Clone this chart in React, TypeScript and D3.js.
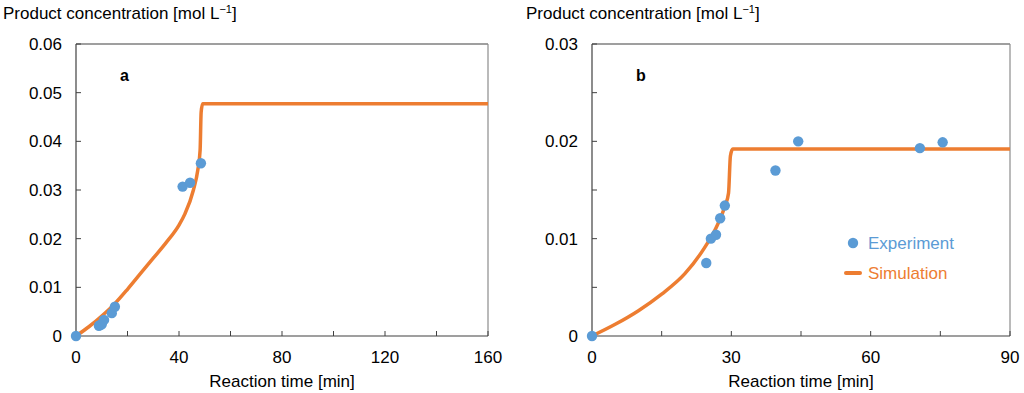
import * as d3 from "d3";

// panel a data
const expTimeA = [0, 8.9, 9.5, 10, 10.9, 13.9, 15.1, 41.4, 44.3, 48.5];
const expConcA = [0, 0.0021, 0.0023, 0.0024, 0.0033, 0.0047, 0.006, 0.0307, 0.0315, 0.0355];
const simTimeA = [0, 5, 10, 15, 20, 25, 30, 35, 40, 42.3, 45.6, 47.3, 48.2, 48.6, 49.2, 60, 160];
const simConcA = [0, 0.0019, 0.0041, 0.0066, 0.0096, 0.0128, 0.016, 0.0192, 0.0228, 0.0251, 0.03, 0.0341, 0.0382, 0.046, 0.0477, 0.0477, 0.0477];

// panel b data
const expTimeB = [0, 24.6, 25.6, 26.7, 27.6, 28.6, 39.5, 44.4, 70.6, 75.5];
const expConcB = [0, 0.0075, 0.01, 0.0104, 0.0121, 0.0134, 0.017, 0.02, 0.0193, 0.0199];
const simTimeB = [0, 5, 10, 15, 20, 24, 26.8, 28.6, 29.4, 29.8, 30.3, 40, 90];
const simConcB = [0, 0.0012, 0.0026, 0.0043, 0.0064, 0.0089, 0.0112, 0.0133, 0.0147, 0.0185, 0.0192, 0.0192, 0.0192];

const xTicksA = [0, 40, 80, 120, 160];
const yTicksA = [0, 0.01, 0.02, 0.03, 0.04, 0.05, 0.06];
const xTicksB = [0, 30, 60, 90];
const yTicksB = [0, 0.01, 0.02, 0.03];

const blue = "#5B9BD5";
const orange = "#ED7D31";
const font = "'Liberation Sans', Arial, sans-serif";

const Panel = ({ left, right, label, xMax, yMax, xTicks, yTicks, xMinor, yMinor, expT, expC, simT, simC, titleX, legend }) => {
  const top = 44, bottom = 336;
  const x = d3.scaleLinear().domain([0, xMax]).range([left, right]);
  const y = d3.scaleLinear().domain([0, yMax]).range([bottom, top]);
  const sim = simT.map((t, i) => [t, simC[i]]);
  const line = d3.line().x(d => x(d[0])).y(d => y(d[1])).curve(d3.curveMonotoneX);
  const fmt = v => (v === 0 ? "0" : d3.format(".2f")(v));

  return (
    <g fontFamily={font}>
      <text x={titleX} y={19} fontSize={17} fill="#000">
        Product concentration [mol L<tspan dy={-6} fontSize={11}>−1</tspan><tspan dy={6}>]</tspan>
      </text>
      {/* frame */}
      <line x1={left} x2={right} y1={top} y2={top} stroke="#404040" strokeWidth={1.2} />
      <line x1={right} x2={right} y1={top} y2={bottom} stroke="#8c8c8c" strokeWidth={1.2} />
      <line x1={left} x2={left} y1={top} y2={bottom} stroke="#404040" strokeWidth={1.2} />
      <line x1={left} x2={right} y1={bottom} y2={bottom} stroke="#404040" strokeWidth={1.2} />
      {d3.range(0, xMax + 0.001, xMinor).map(t => (
        <line key={"xt" + t} x1={x(t)} x2={x(t)} y1={bottom} y2={bottom - 5} stroke="#404040" />
      ))}
      {d3.range(0, yMax + 0.00001, yMinor).map(v => (
        <line key={"yt" + v} x1={left} x2={left + 5} y1={y(v)} y2={y(v)} stroke="#404040" />
      ))}
      {xTicks.map(t => (
        <text key={"xl" + t} x={x(t)} y={363} fontSize={17} textAnchor="middle" fill="#000">{t}</text>
      ))}
      {yTicks.map(v => (
        <text key={"yl" + v} x={left - 14} y={y(v) + 6} fontSize={17} textAnchor="end" fill="#000">{fmt(v)}</text>
      ))}
      <text x={(left + right) / 2} y={387} fontSize={17} textAnchor="middle" fill="#000">Reaction time [min]</text>
      <text x={left + 44} y={81} fontSize={16} fontWeight="bold" fill="#000">{label}</text>
      <path d={line(sim)} fill="none" stroke={orange} strokeWidth={3.5} />
      {expT.map((t, i) => (
        <circle key={"p" + i} cx={x(t)} cy={y(expC[i])} r={5.2} fill={blue} />
      ))}
      {legend && (
        <g>
          <circle cx={853} cy={243} r={5.2} fill={blue} />
          <text x={868} y={249} fontSize={17} fill={blue}>Experiment</text>
          <line x1={846} x2={860} y1={273} y2={273} stroke={orange} strokeWidth={4} strokeLinecap="round" />
          <text x={868} y={279} fontSize={17} fill={orange}>Simulation</text>
        </g>
      )}
    </g>
  );
};

export default function App() {
  return (
    <div style={{ position: "absolute", left: 0, top: 0 }}>
      <svg width={1024} height={393} style={{ display: "block", background: "#fff" }}>
        <Panel left={76} right={488} label="a" xMax={160} yMax={0.06} xTicks={xTicksA} yTicks={yTicksA}
          xMinor={20} yMinor={0.01} expT={expTimeA} expC={expConcA} simT={simTimeA} simC={simConcA} titleX={3} legend={false} />
        <Panel left={592} right={1010} label="b" xMax={90} yMax={0.03} xTicks={xTicksB} yTicks={yTicksB}
          xMinor={15} yMinor={0.005} expT={expTimeB} expC={expConcB} simT={simTimeB} simC={simConcB} titleX={526} legend={true} />
      </svg>
    </div>
  );
}
